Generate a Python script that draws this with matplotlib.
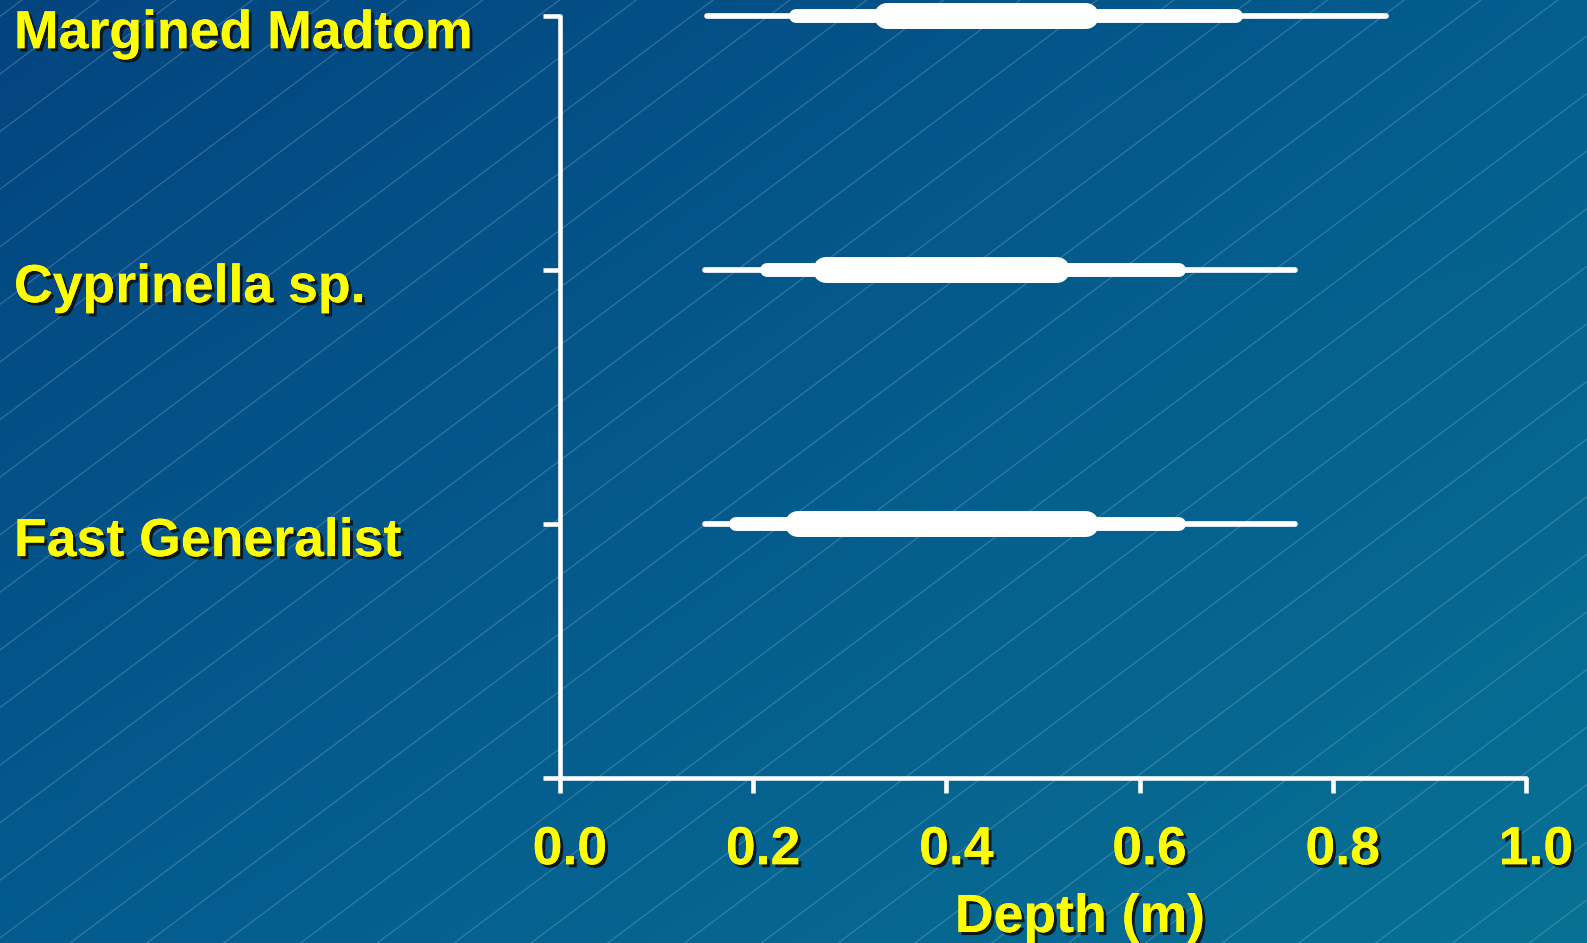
import matplotlib
matplotlib.use('Agg')
import matplotlib.pyplot as plt
import matplotlib.patheffects as pe
import matplotlib.transforms as mtrans
import numpy as np

# data (depth in m)
categories = ['Margined Madtom', 'Cyprinella sp.', 'Fast Generalist']
rows = [3, 2, 1]
thin_lo = [0.152, 0.150, 0.150]
thin_hi = [0.855, 0.761, 0.761]
mid_lo = [0.244, 0.214, 0.182]
mid_hi = [0.700, 0.641, 0.641]
thick_lo = [0.338, 0.275, 0.246]
thick_hi = [0.545, 0.514, 0.545]
xticks = [0.0, 0.2, 0.4, 0.6, 0.8, 1.0]

W, H = 1587, 943
YELLOW = '#ffff00'
FONT = 'Liberation Sans'
FS = 38.6
shadow = [pe.withSimplePatchShadow(offset=(2.2, -2.2), shadow_rgbFace='#101010', alpha=0.9),
          pe.Normal()]

fig = plt.figure(figsize=(W / 100, H / 100), dpi=100)

# background: diagonal gradient with thin slanted lines
bg = fig.add_axes([0, 0, 1, 1], zorder=0)
tl = np.array([3, 68, 127]) / 255
tr = np.array([4, 94, 142]) / 255
bl = np.array([4, 91, 142]) / 255
br = np.array([8, 113, 148]) / 255
u = np.linspace(0, 1, 200)[None, :, None]
v = np.linspace(0, 1, 120)[:, None, None]
grad = (1 - v) * ((1 - u) * tl + u * tr) + v * ((1 - u) * bl + u * br)
bg.imshow(grad, extent=[0, W, H, 0], aspect='auto', interpolation='bilinear')
for c in np.arange(16.4 - 57.6 * 25, H + 0.75 * W + 60, 57.6):
    bg.plot([0, W], [c, c - 0.75 * W], color='#8db4cf', lw=0.7, alpha=0.42)
bg.set_xlim(0, W)
bg.set_ylim(H, 0)
bg.axis('off')

# main axes
ax = fig.add_axes([560 / W, 1 - 778 / H, (1526 - 560) / W, (778 - 16.2) / H], zorder=2)
ax.patch.set_alpha(0)
ax.set_xlim(0, 1)
ax.set_ylim(0, 3)

ax.hlines(rows, thin_lo, thin_hi, colors='white', lw=4.1, capstyle='round', clip_on=False, zorder=3)
ax.hlines(rows, mid_lo, mid_hi, colors='white', lw=10, capstyle='round', clip_on=False, zorder=4)
ax.hlines(rows, thick_lo, thick_hi, colors='white', lw=18.7, capstyle='round', clip_on=False, zorder=5)

for s in ['top', 'right']:
    ax.spines[s].set_visible(False)
for s in ['left', 'bottom']:
    ax.spines[s].set_color('white')
    ax.spines[s].set_linewidth(3.3)
    ax.spines[s].set_capstyle('round')

ax.set_yticks([0, 1, 2, 3])
ax.set_yticklabels([])
ax.tick_params(axis='y', length=12, width=3.3, color='white')
ax.set_xticks(xticks)
ax.set_xticklabels([f'{t:.1f}' for t in xticks])
ax.tick_params(axis='x', length=11, width=3.3, color='white', pad=23)
shift = mtrans.ScaledTranslation(10 / 100, 0, fig.dpi_scale_trans)
for lab in ax.get_xticklabels():
    lab.set_fontfamily(FONT)
    lab.set_fontweight('bold')
    lab.set_fontsize(FS)
    lab.set_color(YELLOW)
    lab.set_path_effects(shadow)
    lab.set_transform(lab.get_transform() + shift)

# category labels, left side of the figure
lab_tr = mtrans.blended_transform_factory(fig.transFigure, ax.transData) + \
    mtrans.ScaledTranslation(0, -32 / 100, fig.dpi_scale_trans)
for name, r in zip(categories, rows):
    fig.text(14 / W, r, name, transform=lab_tr, ha='left', va='baseline',
             fontsize=FS, fontweight='bold', family=FONT, color=YELLOW,
             path_effects=shadow, zorder=6)

fig.text(1080 / W, 1 - 932 / H, 'Depth (m)', ha='center', va='baseline',
         fontsize=FS, fontweight='bold', family=FONT, color=YELLOW,
         path_effects=shadow, zorder=6)

fig.savefig('out.png', dpi=100)
